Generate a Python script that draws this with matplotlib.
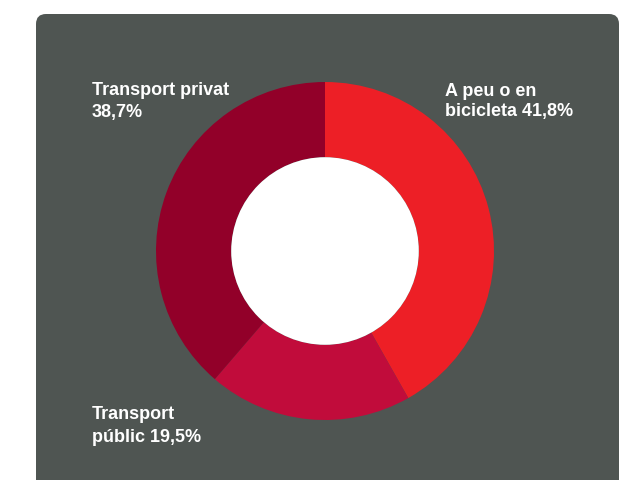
import matplotlib
matplotlib.use("Agg")
import matplotlib.pyplot as plt
from matplotlib.patches import FancyBboxPatch, Circle
from matplotlib import font_manager

categories = ["A peu o en bicicleta", "Transport públic", "Transport privat"]
values = [41.8, 19.5, 38.7]
colors = ["#ED1F26", "#C10C3B", "#920029"]
label_lines = [["A peu o en", "bicicleta 41,8%"],
               ["Transport", "públic 19,5%"],
               ["Transport privat", "38,7%"]]

W, H = 624, 481
fig = plt.figure(figsize=(W / 100, H / 100), dpi=100)
fig.patch.set_facecolor("white")

# panel
panel = FancyBboxPatch((36 / W, -0.05), (619 - 36) / W, (H - 15) / H + 0.05,
                       boxstyle="round,pad=0,rounding_size=0.016",
                       transform=fig.transFigure, facecolor="#4F5552",
                       edgecolor="none", mutation_aspect=W / H, zorder=-10)
fig.patches.append(panel)

cx, cy, r = 325, 252, 169
ring = 0.445
ax = fig.add_axes([(cx - r) / W, (H - cy - r) / H, 2 * r / W, 2 * r / H])
ax.set_zorder(5)
ax.patch.set_visible(False)
ax.pie(values, colors=colors, startangle=90, counterclock=False,
       radius=1, wedgeprops=dict(width=ring, edgecolor="none"))
ax.add_patch(Circle((0, 0), 1 - ring, facecolor="white", edgecolor="none"))
ax.set_xlim(-1, 1)
ax.set_ylim(-1, 1)
ax.set_aspect("equal")
ax.axis("off")

names = {f.name for f in font_manager.fontManager.ttflist}
fam = ["Liberation Sans Narrow", "DejaVu Sans"] if "Liberation Sans Narrow" in names else ["Liberation Sans", "DejaVu Sans"]

positions = [(445, [95.5, 116]), (92, [419, 442.5]), (92, [95, 116.5])]
for lines, (x, ys) in zip(label_lines, positions):
    for line, y in zip(lines, ys):
        fig.text(x / W, 1 - y / H, line, color="white", fontsize=13,
                 fontweight="bold", family=fam, va="baseline", ha="left",
                 zorder=10)

fig.savefig("out.png", dpi=100, facecolor="white")
